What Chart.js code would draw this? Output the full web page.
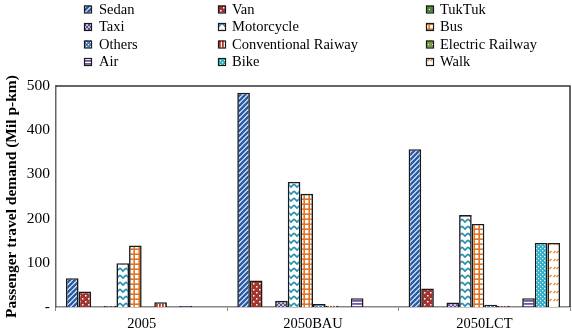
<!DOCTYPE html>
<html>
<head>
<meta charset="utf-8">
<script src="https://cdn.jsdelivr.net/npm/chart.js@4"></script>
<style>
  html, body { margin: 0; padding: 0; background: #fff; }
  #wrap { width: 572px; height: 334px; }
</style>
</head>
<body>
<div id="wrap"><canvas id="chart" width="572" height="334"></canvas></div>
<script>
// Passenger travel demand by mode (Mil p-km)
const categories = ['2005', '2050BAU', '2050LCT'];
const yTicks = [0, 100, 200, 300, 400, 500];

const sedan        = [65, 485, 357];
const van          = [35, 60, 42];
const tuktuk       = [0, 0, 0];
const taxi         = [2, 14, 10];
const motorcycle   = [99, 283, 208];
const bus          = [139, 256, 188];
const others       = [0, 7, 5];
const convRailway  = [11, 3, 2];
const elecRailway  = [0, 0, 0];
const air          = [2, 20, 20];
const bike         = [0, 0, 145];
const walk         = [0, 0, 145];

const seriesNames = ['Sedan', 'Van', 'TukTuk', 'Taxi', 'Motorcycle', 'Bus',
    'Others', 'Conventional Raiway', 'Electric Railway', 'Air', 'Bike', 'Walk'];
const seriesValues = [sedan, van, tuktuk, taxi, motorcycle, bus,
    others, convRailway, elecRailway, air, bike, walk];

const FONT = '"Times New Roman", "Liberation Serif", serif';

// small tiled fills, mimicking Excel pattern fills
function pattern(w, h, bg, draw) {
    const c = document.createElement('canvas');
    c.width = w; c.height = h;
    const g = c.getContext('2d');
    g.fillStyle = bg;
    g.fillRect(0, 0, w, h);
    draw(g);
    return g.createPattern(c, 'repeat');
}

const fills = [
    // Sedan: blue diagonal stripes
    pattern(5, 5, '#ffffff', g => {
        g.strokeStyle = '#2a5ca8'; g.lineWidth = 2.6;
        g.beginPath();
        g.moveTo(-1, 6); g.lineTo(6, -1);
        g.moveTo(-1, 1); g.lineTo(1, -1);
        g.moveTo(4, 6); g.lineTo(6, 4);
        g.stroke();
    }),
    // Van: dark red with white dots
    pattern(6, 6, '#a1342f', g => {
        g.fillStyle = '#ffffff';
        g.fillRect(1, 1, 1.5, 1.5);
        g.fillRect(4, 4, 1.5, 1.5);
    }),
    // TukTuk: green
    pattern(4, 4, '#4d8a3c', g => {
        g.fillStyle = '#ffffff';
        g.fillRect(1, 1, 1, 1);
    }),
    // Taxi: purple checks
    pattern(4, 4, '#c9c0e0', g => {
        g.fillStyle = '#5e4f92';
        g.fillRect(0, 0, 2, 2);
        g.fillRect(2, 2, 2, 2);
    }),
    // Motorcycle: teal zigzag
    pattern(6, 7, '#ffffff', g => {
        g.strokeStyle = '#2590b0'; g.lineWidth = 1.7;
        g.beginPath();
        g.moveTo(0, 2); g.lineTo(3, 5); g.lineTo(6, 2);
        g.stroke();
    }),
    // Bus: orange grid
    pattern(5, 5, '#ffffff', g => {
        g.fillStyle = '#e07526';
        g.fillRect(3.4, 0, 1.6, 5);
        g.fillRect(0, 3.4, 5, 1.6);
    }),
    // Others: blue with white dots
    pattern(4, 4, '#4a7bc2', g => {
        g.fillStyle = '#ffffff';
        g.fillRect(0, 0, 1.2, 1.2);
        g.fillRect(2, 2, 1.2, 1.2);
    }),
    // Conventional railway: red vertical stripes
    pattern(3, 1, '#ffffff', g => {
        g.fillStyle = '#c0352a';
        g.fillRect(0, 0, 1.8, 1);
    }),
    // Electric railway: olive
    pattern(4, 4, '#7e9b3f', g => {
        g.fillStyle = '#ffffff';
        g.fillRect(0, 0, 1, 1);
    }),
    // Air: purple horizontal stripes
    pattern(1, 3, '#ffffff', g => {
        g.fillStyle = '#7455a5';
        g.fillRect(0, 0, 1, 1.8);
    }),
    // Bike: teal lattice
    pattern(4, 4, '#2fb0ca', g => {
        g.fillStyle = '#ffffff';
        g.fillRect(0, 0, 1.2, 1.2);
        g.fillRect(2, 2, 1.2, 1.2);
    }),
    // Walk: orange dashes on white
    pattern(7, 8, '#ffffff', g => {
        g.strokeStyle = '#ee8a28'; g.lineWidth = 1.5;
        g.beginPath();
        g.moveTo(0.5, 5); g.lineTo(2.5, 3);
        g.moveTo(3.5, 5); g.lineTo(5.5, 3);
        g.stroke();
    })
];

const datasets = seriesNames.map((name, i) => ({
    label: name,
    data: seriesValues[i],
    backgroundColor: fills[i],
    borderColor: '#1a1a1a',
    borderWidth: 1.6,
    categoryPercentage: 0.884,
    barPercentage: 1.0
}));

// Excel-like 3-column legend drawn on the canvas
const gridLegend = {
    id: 'gridLegend',
    afterDraw(chart) {
        const c = chart.ctx;
        const markerX = [84, 218, 426];
        const textX = [99, 232, 440];
        const rowY = [9, 26.5, 44, 61.5];
        c.save();
        c.font = '14.5px ' + FONT;
        c.textBaseline = 'middle';
        chart.data.datasets.forEach((ds, i) => {
            const col = i % 3, row = Math.floor(i / 3);
            const x = markerX[col], y = rowY[row];
            c.fillStyle = ds.backgroundColor;
            c.fillRect(x, y - 3.5, 7, 7);
            c.strokeStyle = '#1a1a1a';
            c.lineWidth = 1.2;
            c.strokeRect(x + 0.5, y - 3, 7, 7);
            c.fillStyle = '#000';
            c.fillText(ds.label, textX[col], y + 1);
        });
        c.restore();
    }
};

// top and right edges of the plot box
const plotFrame = {
    id: 'plotFrame',
    afterDatasetsDraw(chart) {
        const { left, top, right, bottom } = chart.chartArea;
        const c = chart.ctx;
        c.save();
        c.strokeStyle = '#333';
        c.lineWidth = 1.5;
        c.beginPath();
        c.moveTo(left, top);
        c.lineTo(right, top);
        c.lineTo(right, bottom);
        c.stroke();
        c.restore();
    }
};

new Chart(document.getElementById('chart'), {
    type: 'bar',
    plugins: [gridLegend, plotFrame],
    data: { labels: categories, datasets },
    options: {
        responsive: false,
        animation: false,
        layout: { padding: { top: 86, right: 2, left: 0, bottom: 0 } },
        plugins: {
            legend: { display: false },
            tooltip: { enabled: false }
        },
        scales: {
            x: {
                afterFit: s => { s.height = 27; },
                grid: {
                    offset: true,
                    drawOnChartArea: false,
                    drawTicks: true,
                    tickLength: 4,
                    color: '#888'
                },
                border: { color: '#888', width: 1.5 },
                ticks: {
                    color: '#000',
                    padding: 4,
                    font: { family: FONT, size: 14.5 }
                }
            },
            y: {
                min: 0,
                max: 500,
                afterFit: s => { s.width = 56; },
                afterBuildTicks: s => { s.ticks = yTicks.map(v => ({ value: v })); },
                grid: { display: false, drawTicks: false },
                border: { color: '#666', width: 1.5 },
                ticks: {
                    color: '#000',
                    padding: 6,
                    font: { family: FONT, size: 15.5 },
                    callback: v => v === 0 ? '-' : v
                },
                title: {
                    display: true,
                    text: 'Passenger travel demand (Mil p-km)',
                    color: '#000',
                    padding: { top: 3, bottom: 0 },
                    font: { family: FONT, size: 15.5, weight: 'bold' }
                }
            }
        }
    }
});
</script>
</body>
</html>
